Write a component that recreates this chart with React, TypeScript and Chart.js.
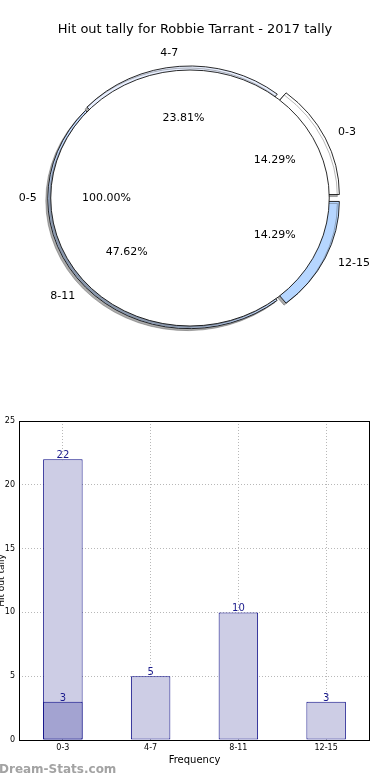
import React, { useEffect, useRef } from 'react';
import { Chart, registerables } from 'chart.js';

Chart.register(...registerables);

const FONT = 'DejaVu Sans';
Chart.defaults.font.family = FONT;

// ---------- data ----------
const TITLE = 'Hit out tally for Robbie Tarrant - 2017 tally';
const pieLabels = ['0-3', '4-7', '8-11', '12-15'];
const pieValues = [3, 5, 10, 3];
const pieColors = ['#ffffff', '#e8efff', '#c4dbff', '#b6d6ff'];
const innerLabels = ['0-5'];
const innerValues = [21];

const barLabels = ['0-3', '4-7', '8-11', '12-15'];
const barValues = [22, 5, 10, 3];
const barOverlay = [3, null, null, null];
const yMin = 0;
const yMax = 25;
const yStep = 5;

// ---------- styling helpers ----------
const SX = 1.088; // horizontal stretch of the pie (elliptical look)
const SHIFT_X = -5;
const PIE_EXPLODE = [29.6, 12, 4.3, 29.6]; // per original order

function pieCenter(chart: any) {
  const a = chart.chartArea;
  return { cx: (a.left + a.right) / 2, cy: (a.top + a.bottom) / 2 };
}
function mapX(chart: any, x: number) {
  const { cx } = pieCenter(chart);
  return cx + SHIFT_X + SX * (x - cx);
}
function arcShift(el: any) {
  const off = (el.options.offset || 0) / 4;
  const circ = el.endAngle - el.startAngle;
  const fix = 1 - Math.sin(Math.min(Math.PI, circ || 0));
  return off * (1 + fix);
}

function applyEllipse(chart: any) {
  const { ctx } = chart;
  const { cx, cy } = pieCenter(chart);
  ctx.translate(cx + SHIFT_X, cy);
  ctx.scale(SX, 1);
  ctx.translate(-cx, -cy);
}

const ellipsePlugin = {
  id: 'ellipse',
  beforeDatasetsDraw(chart: any) {
    const { ctx } = chart;
    ctx.save();
    applyEllipse(chart);
    ctx.shadowColor = 'rgba(70,70,70,0.45)';
    ctx.shadowOffsetX = -2;
    ctx.shadowOffsetY = 2;
    ctx.shadowBlur = 0;
  },
  afterDatasetsDraw(chart: any) {
    chart.ctx.restore();
  },
};

// outline of the full inner circle (drawn from the arc element geometry)
const circleOutlinePlugin = {
  id: 'circleOutline',
  afterDatasetsDraw(chart: any) {
    const { ctx } = chart;
    const el: any = chart.getDatasetMeta(0).data[0];
    if (!el) return;
    ctx.save();
    applyEllipse(chart);
    ctx.strokeStyle = '#000000';
    ctx.lineWidth = 0.8;
    ctx.beginPath();
    ctx.arc(el.x, el.y, el.outerRadius, 0, Math.PI * 2);
    ctx.closePath();
    ctx.stroke();
    ctx.restore();
  },
};

export default function App() {
  const outerRef = useRef<HTMLCanvasElement>(null);
  const innerRef = useRef<HTMLCanvasElement>(null);
  const barRef = useRef<HTMLCanvasElement>(null);

  useEffect(() => {
    const n = pieLabels.length;
    const rev = (arr: any[]) => arr.map((_, i) => arr[n - 1 - i]);
    const revLabels = rev(pieLabels);
    const revValues = rev(pieValues);
    const revColors = rev(pieColors);
    const revExplode = rev(PIE_EXPLODE);
    const total = pieValues.reduce((a, b) => a + b, 0);
    const innerTotal = innerValues.reduce((a, b) => a + b, 0);

    const titleOpts = (color: string) => ({
      display: true,
      text: TITLE,
      color,
      font: { family: FONT, size: 13, weight: 'normal' as const },
      padding: { top: 22, bottom: 0 },
    });

    const outer = new Chart(outerRef.current!, {
      type: 'pie',
      data: {
        labels: revLabels,
        datasets: [
          {
            data: revValues,
            backgroundColor: revColors,
            borderColor: '#000000',
            borderWidth: 0.8,
            offset: revExplode,
            clip: false as any,
          },
        ],
      },
      options: {
        animation: false,
        responsive: false,
        rotation: 90,
        radius: 129,
        layout: { padding: { top: 0, bottom: 31.6, left: 0, right: 0 } },
        plugins: {
          legend: { display: false },
          tooltip: { enabled: false },
          title: titleOpts('#000000'),
        },
      } as any,
      plugins: [ellipsePlugin],
    });

    const labelPlugin = {
      id: 'pieLabels',
      afterDraw(chart: any) {
        const ctx = chart.ctx;
        ctx.save();
        ctx.font = `11px ${FONT}`;
        ctx.fillStyle = '#000000';
        ctx.textBaseline = 'middle';
        const drawFor = (src: any, labels: string[], values: number[], tot: number) => {
          const meta = src.getDatasetMeta(0);
          meta.data.forEach((el: any, i: number) => {
            const mid = (el.startAngle + el.endAngle) / 2;
            const d = arcShift(el);
            const c = Math.cos(mid);
            const s = Math.sin(mid);
            const ox = el.x + c * d;
            const oy = el.y + s * d;
            const r = el.outerRadius;
            const pct = ((values[i] / tot) * 100).toFixed(2) + '%';
            ctx.textAlign = 'center';
            ctx.fillText(pct, mapX(src, ox + c * r * 0.6), oy + s * r * 0.6);
            ctx.textAlign = c >= 0 ? 'left' : 'right';
            ctx.fillText(labels[i], mapX(src, ox + c * r * 1.1), oy + s * r * 1.1);
          });
        };
        drawFor(outer, revLabels, revValues, total);
        drawFor(chart, innerLabels, innerValues, innerTotal);
        ctx.restore();
      },
    };

    const inner = new Chart(innerRef.current!, {
      type: 'pie',
      data: {
        labels: innerLabels,
        datasets: [
          {
            data: innerValues,
            backgroundColor: ['#ffffff'],
            borderWidth: 0,
            clip: false as any,
          },
        ],
      },
      options: {
        animation: false,
        responsive: false,
        rotation: 90,
        radius: 128,
        layout: { padding: { top: 0, bottom: 31.6, left: 0, right: 0 } },
        plugins: {
          legend: { display: false },
          tooltip: { enabled: false },
          title: titleOpts('rgba(0,0,0,0)'),
        },
      } as any,
      plugins: [ellipsePlugin, circleOutlinePlugin, labelPlugin],
    });

    const framePlugin = {
      id: 'frame',
      afterDraw(chart: any) {
        const { ctx, chartArea: a } = chart;
        ctx.save();
        ctx.strokeStyle = '#000000';
        ctx.lineWidth = 1;
        ctx.strokeRect(
          Math.round(a.left) + 0.5,
          Math.round(a.top) + 0.5,
          Math.round(a.right - a.left) - 1,
          Math.round(a.bottom - a.top)
        );
        ctx.restore();
      },
    };

    const valueLabelPlugin = {
      id: 'valueLabels',
      afterDatasetsDraw(chart: any) {
        const ctx = chart.ctx;
        ctx.save();
        ctx.font = `10px ${FONT}`;
        ctx.fillStyle = '#1a1a8c';
        ctx.textAlign = 'center';
        ctx.textBaseline = 'alphabetic';
        chart.data.datasets.forEach((ds: any, di: number) => {
          const meta = chart.getDatasetMeta(di);
          meta.data.forEach((el: any, i: number) => {
            const v = ds.data[i];
            if (v === null || v === undefined) return;
            ctx.fillText(String(v), el.x, el.y - 1);
          });
        });
        ctx.restore();
      },
    };

    const gridCommon = {
      color: '#b8b8b8',
      lineWidth: 1,
      drawTicks: false,
    };

    const bar = new Chart(barRef.current!, {
      type: 'bar',
      data: {
        labels: barLabels,
        datasets: [
          {
            data: barOverlay,
            backgroundColor: '#a3a3d1',
            borderColor: '#0b0b86',
            borderWidth: 1,
            borderSkipped: false,
            grouped: false,
            order: 0,
            barPercentage: 0.45,
            categoryPercentage: 1,
          },
          {
            data: barValues,
            backgroundColor: '#cdcde5',
            borderColor: '#0b0b86',
            borderWidth: 1,
            borderSkipped: false,
            grouped: false,
            order: 1,
            barPercentage: 0.45,
            categoryPercentage: 1,
          },
        ] as any,
      },
      options: {
        animation: false,
        responsive: false,
        layout: { padding: { left: 0, right: 20, top: 21, bottom: 0 } },
        plugins: {
          legend: { display: false },
          tooltip: { enabled: false },
        },
        scales: {
          x: {
            grid: { ...gridCommon, offset: false },
            border: { display: false, dash: [1, 2] },
            ticks: { color: '#000000', font: { family: FONT, size: 8 }, padding: 3, maxRotation: 0 },
            title: {
              display: true,
              text: 'Frequency',
              color: '#000000',
              font: { family: FONT, size: 10 },
              padding: { top: 0, bottom: 14 },
            },
            afterFit: (s: any) => {
              s.height = 40;
            },
          },
          y: {
            min: yMin,
            max: yMax,
            grid: { ...gridCommon },
            border: { display: false, dash: [1, 2] },
            ticks: { stepSize: yStep, color: '#000000', font: { family: FONT, size: 8 }, padding: 4 },
            title: {
              display: true,
              text: 'Hit out tally',
              color: '#000000',
              font: { family: FONT, size: 9 },
              padding: 0,
            },
            afterFit: (s: any) => {
              s.width = 23;
            },
          },
        },
      } as any,
      plugins: [framePlugin, valueLabelPlugin],
    });

    return () => {
      inner.destroy();
      outer.destroy();
      bar.destroy();
    };
  }, []);

  return (
    <div
      style={{
        position: 'fixed',
        left: 0,
        top: 0,
        width: 390,
        height: 780,
        background: '#ffffff',
        overflow: 'hidden',
      }}
    >
      <canvas
        ref={outerRef}
        width={390}
        height={390}
        style={{ position: 'absolute', left: 0, top: 0, width: 390, height: 390 }}
      />
      <canvas
        ref={innerRef}
        width={390}
        height={390}
        style={{ position: 'absolute', left: 0, top: 0, width: 390, height: 390 }}
      />
      <canvas
        ref={barRef}
        width={394}
        height={380}
        style={{ position: 'absolute', left: -4, top: 400, width: 394, height: 380 }}
      />
      <div
        style={{
          position: 'absolute',
          left: -1,
          top: 762,
          fontFamily: FONT,
          fontWeight: 'bold',
          fontSize: 12,
          color: '#a3a3a3',
          lineHeight: '15px',
          whiteSpace: 'nowrap',
        }}
      >
        Dream-Stats.com
      </div>
    </div>
  );
}
